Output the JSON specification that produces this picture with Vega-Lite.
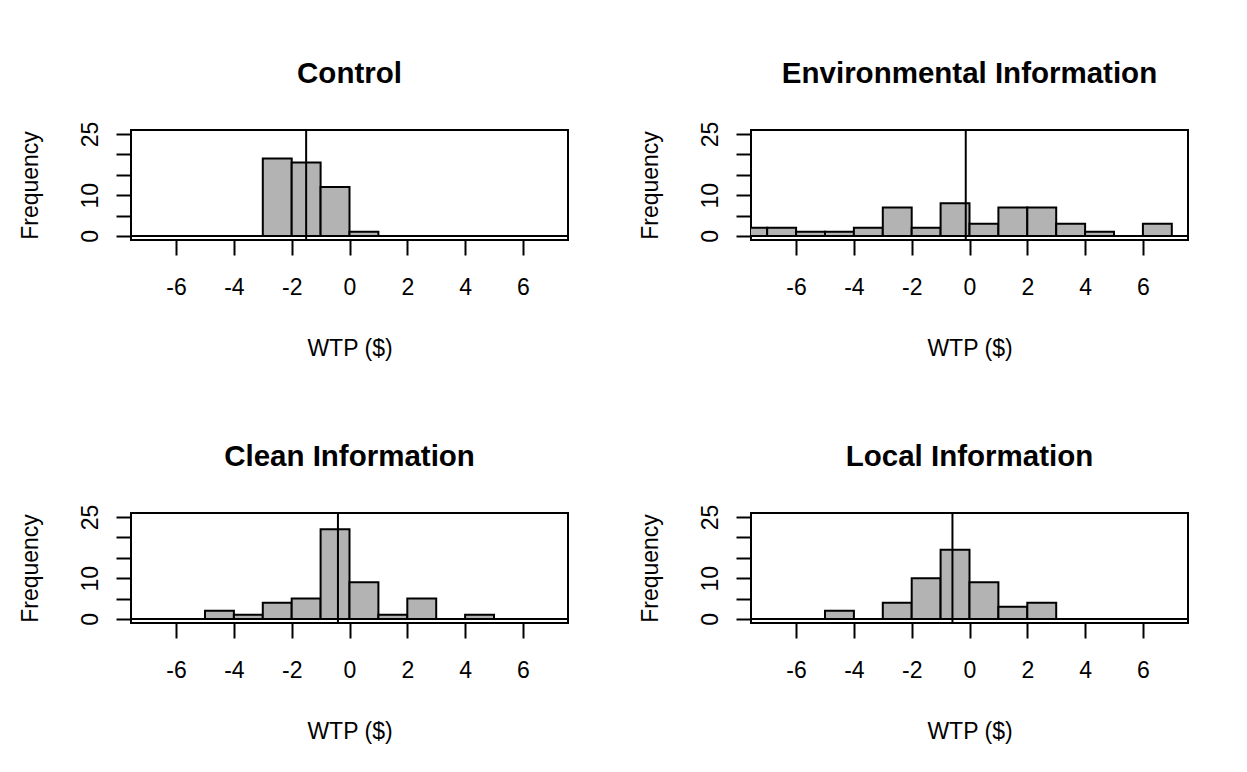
{
  "$schema": "https://vega.github.io/schema/vega-lite/v6.json",
  "autosize": {"type": "none"},
  "padding": {"left": 131, "top": 130, "right": 1116, "bottom": 642},
  "background": "white",
  "bounds": "flush",
  "spacing": {"row": 273, "column": 183},
  "columns": 2,
  "datasets": {
    "bins": [
      {"panel": "Control", "x0": -3, "x1": -2, "count": 19},
      {"panel": "Control", "x0": -2, "x1": -1, "count": 18},
      {"panel": "Control", "x0": -1, "x1": 0, "count": 12},
      {"panel": "Control", "x0": 0, "x1": 1, "count": 1},
      {"panel": "Environmental Information", "x0": -8, "x1": -7, "count": 2},
      {"panel": "Environmental Information", "x0": -7, "x1": -6, "count": 2},
      {"panel": "Environmental Information", "x0": -6, "x1": -5, "count": 1},
      {"panel": "Environmental Information", "x0": -5, "x1": -4, "count": 1},
      {"panel": "Environmental Information", "x0": -4, "x1": -3, "count": 2},
      {"panel": "Environmental Information", "x0": -3, "x1": -2, "count": 7},
      {"panel": "Environmental Information", "x0": -2, "x1": -1, "count": 2},
      {"panel": "Environmental Information", "x0": -1, "x1": 0, "count": 8},
      {"panel": "Environmental Information", "x0": 0, "x1": 1, "count": 3},
      {"panel": "Environmental Information", "x0": 1, "x1": 2, "count": 7},
      {"panel": "Environmental Information", "x0": 2, "x1": 3, "count": 7},
      {"panel": "Environmental Information", "x0": 3, "x1": 4, "count": 3},
      {"panel": "Environmental Information", "x0": 4, "x1": 5, "count": 1},
      {"panel": "Environmental Information", "x0": 6, "x1": 7, "count": 3},
      {"panel": "Clean Information", "x0": -5, "x1": -4, "count": 2},
      {"panel": "Clean Information", "x0": -4, "x1": -3, "count": 1},
      {"panel": "Clean Information", "x0": -3, "x1": -2, "count": 4},
      {"panel": "Clean Information", "x0": -2, "x1": -1, "count": 5},
      {"panel": "Clean Information", "x0": -1, "x1": 0, "count": 22},
      {"panel": "Clean Information", "x0": 0, "x1": 1, "count": 9},
      {"panel": "Clean Information", "x0": 1, "x1": 2, "count": 1},
      {"panel": "Clean Information", "x0": 2, "x1": 3, "count": 5},
      {"panel": "Clean Information", "x0": 4, "x1": 5, "count": 1},
      {"panel": "Local Information", "x0": -5, "x1": -4, "count": 2},
      {"panel": "Local Information", "x0": -3, "x1": -2, "count": 4},
      {"panel": "Local Information", "x0": -2, "x1": -1, "count": 10},
      {"panel": "Local Information", "x0": -1, "x1": 0, "count": 17},
      {"panel": "Local Information", "x0": 0, "x1": 1, "count": 9},
      {"panel": "Local Information", "x0": 1, "x1": 2, "count": 3},
      {"panel": "Local Information", "x0": 2, "x1": 3, "count": 4}
    ],
    "lines": [
      {"panel": "Control", "v": -1.5},
      {"panel": "Environmental Information", "v": -0.13},
      {"panel": "Clean Information", "v": -0.4},
      {"panel": "Local Information", "v": -0.59}
    ]
  },
  "concat": [
    {
      "title": "Control",
      "width": 437, "height": 110,
      "resolve": {"axis": {"x": "independent", "y": "independent"}},
      "layer": [
        {"data": {"name": "bins"}, "transform": [{"filter": "datum.panel == 'Control'"}],
         "mark": {"type": "bar", "clip": true, "fill": "#b3b3b3", "stroke": "black", "strokeWidth": 2},
         "encoding": {
           "x": {"field": "x0", "type": "quantitative", "scale": {"domain": [-7.56, 7.56], "nice": false, "zero": false}, "axis": {"values": [-6, -4, -2, 0, 2, 4, 6], "title": "WTP ($)", "labelExpr": "'' + datum.value"}},
           "x2": {"field": "x1"},
           "y": {"field": "count", "type": "quantitative", "scale": {"domain": [-1, 26], "nice": false, "zero": false}, "axis": {"values": [0, 5, 10, 15, 20, 25], "title": "Frequency", "labelExpr": "datum.value == 0 || datum.value == 10 || datum.value == 25 ? datum.label : ''"}},
           "y2": {"datum": 0}
         }},
        {"data": {"values": [{}]}, "mark": {"type": "rule", "stroke": "black", "strokeWidth": 2}, "encoding": {"y": {"datum": 0, "type": "quantitative", "axis": null}}},
        {"data": {"name": "lines"}, "transform": [{"filter": "datum.panel == 'Control'"}],
         "mark": {"type": "rule", "stroke": "black", "strokeWidth": 2},
         "encoding": {"x": {"field": "v", "type": "quantitative", "axis": null}}}
      ]
    },
    {
      "title": "Environmental Information",
      "width": 437, "height": 110,
      "resolve": {"axis": {"x": "independent", "y": "independent"}},
      "layer": [
        {"data": {"name": "bins"}, "transform": [{"filter": "datum.panel == 'Environmental Information'"}],
         "mark": {"type": "bar", "clip": true, "fill": "#b3b3b3", "stroke": "black", "strokeWidth": 2},
         "encoding": {
           "x": {"field": "x0", "type": "quantitative", "scale": {"domain": [-7.56, 7.56], "nice": false, "zero": false}, "axis": {"values": [-6, -4, -2, 0, 2, 4, 6], "title": "WTP ($)", "labelExpr": "'' + datum.value"}},
           "x2": {"field": "x1"},
           "y": {"field": "count", "type": "quantitative", "scale": {"domain": [-1, 26], "nice": false, "zero": false}, "axis": {"values": [0, 5, 10, 15, 20, 25], "title": "Frequency", "labelExpr": "datum.value == 0 || datum.value == 10 || datum.value == 25 ? datum.label : ''"}},
           "y2": {"datum": 0}
         }},
        {"data": {"values": [{}]}, "mark": {"type": "rule", "stroke": "black", "strokeWidth": 2}, "encoding": {"y": {"datum": 0, "type": "quantitative", "axis": null}}},
        {"data": {"name": "lines"}, "transform": [{"filter": "datum.panel == 'Environmental Information'"}],
         "mark": {"type": "rule", "stroke": "black", "strokeWidth": 2},
         "encoding": {"x": {"field": "v", "type": "quantitative", "axis": null}}}
      ]
    },
    {
      "title": "Clean Information",
      "width": 437, "height": 110,
      "resolve": {"axis": {"x": "independent", "y": "independent"}},
      "layer": [
        {"data": {"name": "bins"}, "transform": [{"filter": "datum.panel == 'Clean Information'"}],
         "mark": {"type": "bar", "clip": true, "fill": "#b3b3b3", "stroke": "black", "strokeWidth": 2},
         "encoding": {
           "x": {"field": "x0", "type": "quantitative", "scale": {"domain": [-7.56, 7.56], "nice": false, "zero": false}, "axis": {"values": [-6, -4, -2, 0, 2, 4, 6], "title": "WTP ($)", "labelExpr": "'' + datum.value"}},
           "x2": {"field": "x1"},
           "y": {"field": "count", "type": "quantitative", "scale": {"domain": [-1, 26], "nice": false, "zero": false}, "axis": {"values": [0, 5, 10, 15, 20, 25], "title": "Frequency", "labelExpr": "datum.value == 0 || datum.value == 10 || datum.value == 25 ? datum.label : ''"}},
           "y2": {"datum": 0}
         }},
        {"data": {"values": [{}]}, "mark": {"type": "rule", "stroke": "black", "strokeWidth": 2}, "encoding": {"y": {"datum": 0, "type": "quantitative", "axis": null}}},
        {"data": {"name": "lines"}, "transform": [{"filter": "datum.panel == 'Clean Information'"}],
         "mark": {"type": "rule", "stroke": "black", "strokeWidth": 2},
         "encoding": {"x": {"field": "v", "type": "quantitative", "axis": null}}}
      ]
    },
    {
      "title": "Local Information",
      "width": 437, "height": 110,
      "resolve": {"axis": {"x": "independent", "y": "independent"}},
      "layer": [
        {"data": {"name": "bins"}, "transform": [{"filter": "datum.panel == 'Local Information'"}],
         "mark": {"type": "bar", "clip": true, "fill": "#b3b3b3", "stroke": "black", "strokeWidth": 2},
         "encoding": {
           "x": {"field": "x0", "type": "quantitative", "scale": {"domain": [-7.56, 7.56], "nice": false, "zero": false}, "axis": {"values": [-6, -4, -2, 0, 2, 4, 6], "title": "WTP ($)", "labelExpr": "'' + datum.value"}},
           "x2": {"field": "x1"},
           "y": {"field": "count", "type": "quantitative", "scale": {"domain": [-1, 26], "nice": false, "zero": false}, "axis": {"values": [0, 5, 10, 15, 20, 25], "title": "Frequency", "labelExpr": "datum.value == 0 || datum.value == 10 || datum.value == 25 ? datum.label : ''"}},
           "y2": {"datum": 0}
         }},
        {"data": {"values": [{}]}, "mark": {"type": "rule", "stroke": "black", "strokeWidth": 2}, "encoding": {"y": {"datum": 0, "type": "quantitative", "axis": null}}},
        {"data": {"name": "lines"}, "transform": [{"filter": "datum.panel == 'Local Information'"}],
         "mark": {"type": "rule", "stroke": "black", "strokeWidth": 2},
         "encoding": {"x": {"field": "v", "type": "quantitative", "axis": null}}}
      ]
    }
  ],
  "config": {
    "view": {"stroke": "black", "strokeWidth": 2},
    "font": "Liberation Sans",
    "title": {"font": "Liberation Sans", "fontSize": 29.5, "fontWeight": "bold", "color": "black", "anchor": "middle", "frame": "group", "baseline": "alphabetic", "offset": 32},
    "axis": {
      "domain": false, "grid": false,
      "tickColor": "black", "tickWidth": 2, "tickSize": 15,
      "labelFont": "Liberation Sans", "labelFontSize": 23, "labelColor": "black",
      "labelOverlap": false, "labelFlush": false,
      "titleFont": "Liberation Sans", "titleFontSize": 23, "titleFontWeight": "normal", "titleColor": "black"
    },
    "axisX": {"labelBaseline": "alphabetic", "labelPadding": 39, "labelAlign": "center", "titleY": 108, "titleBaseline": "middle", "titleAlign": "center"},
    "axisY": {"labelAngle": 270, "labelAlign": "center", "labelBaseline": "alphabetic", "labelPadding": 19, "titleAngle": 270, "titleX": -101, "titleY": 55, "titleBaseline": "middle", "titleAlign": "center"}
  }
}
